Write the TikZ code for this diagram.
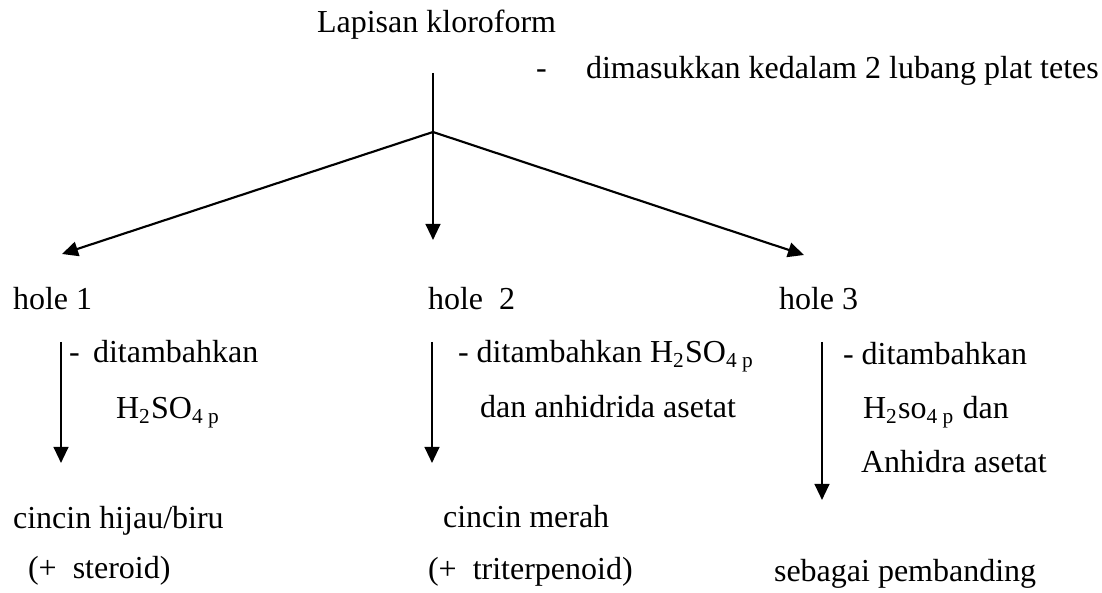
\documentclass[tikz,border=0pt]{standalone}
\usepackage{fontspec}
\setmainfont{LiberationSerif}[Extension=.ttf,UprightFont=*-Regular]
\usetikzlibrary{arrows.meta}

\begin{document}
\begin{tikzpicture}[x=0.375pt,y=-0.375pt,
  txt/.style={anchor=base west,inner sep=0pt,font=\fontsize{12}{14}\selectfont},
  ar/.style={-{Triangle[length=6pt,width=5.5pt]}},
  line width=0.8pt]
\useasboundingbox (0,0) rectangle (1102,593);
% top
\node[txt] (lap) at (316,33) {Lapisan kloroform};
\node[txt] (dash) at (535,79) {-};
\node[txt] (lub) at (585,79) {dimasukkan kedalam 2 lubang plat tetes};
\coordinate (start) at (433,73);
\coordinate (split) at (433,132);
\coordinate (t1) at (62,254);
\coordinate (t2) at (433,240);
\coordinate (t3) at (804,255);
\draw (start) -- (split);
\foreach \t in {t1,t2,t3} \draw[ar] (split) -- (\t);
% holes
\node[txt] (hole1) at (12,310) {hole 1};
\node[txt] (hole2) at (427,310) {hole~~2};
\node[txt] (hole3) at (778,310) {hole 3};
\coordinate (a1) at (61,342);  \coordinate (b1) at (61,463);
\coordinate (a2) at (432,342); \coordinate (b2) at (432,463);
\coordinate (a3) at (822,342); \coordinate (b3) at (822,500);
\foreach \n in {1,2,3} \draw[ar] (a\n) -- (b\n);
% reagents
\node[txt] (r1a) at (68,363) {-~\,ditambahkan};
\node[txt] (r1b) at (115,419) {H\textsubscript{2}SO\textsubscript{4 p}};
\node[txt] (r2a) at (457,363) {- ditambahkan H\textsubscript{2}SO\textsubscript{4 p}};
\node[txt] (r2b) at (479,418) {dan anhidrida asetat};
\node[txt] (r3a) at (842,365) {- ditambahkan};
\node[txt] (r3b) at (862,419) {H\textsubscript{2}so\textsubscript{4 p} dan};
\node[txt] (r3c) at (860,473) {Anhidra asetat};
% results
\node[txt] (res1) at (12,529) {cincin hijau/biru};
\node[txt] (pos1) at (27,579) {(+~~steroid)};
\node[txt] (res2) at (442,528) {cincin merah};
\node[txt] (pos2) at (427,580) {(+~~triterpenoid)};
\node[txt] (res3) at (773,582) {sebagai pembanding};
\end{tikzpicture}
\end{document}
